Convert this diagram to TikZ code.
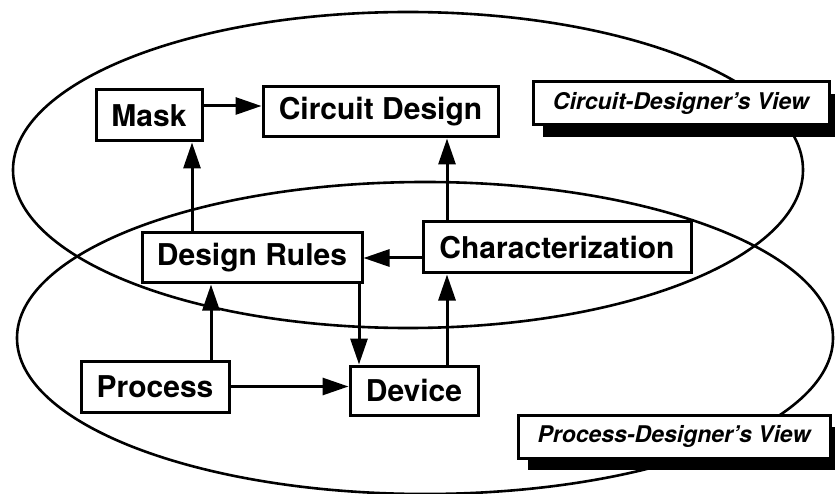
\documentclass[tikz,border=0pt]{standalone}
\usepackage{fontspec}
\setmainfont{TeX Gyre Heros}
\usetikzlibrary{positioning}
\usetikzlibrary{arrows.meta}
\usetikzlibrary{shadows}
\tikzset{
    ring/.style = {line width=2.6pt,draw=black},
    box/.style = {rectangle, line width=3pt, draw=black, fill=white, inner sep=0pt,
                  font=\bfseries\fontsize{30}{36}\selectfont},
    viewbox/.style = {rectangle, line width=3pt, draw=black, fill=white, inner sep=0pt,
                  font=\bfseries\itshape\fontsize{23}{28}\selectfont,
                  drop shadow={shadow xshift=10pt,shadow yshift=-12pt,opacity=1,fill=black}},
    edge/.style = {-{Triangle[length=26pt,width=17pt]},line width=3pt},
}

\begin{document}
\begin{tikzpicture}[x=1pt,y=-1pt]
  \useasboundingbox (0,0) rectangle (835,494);
  % the two views
  \draw[ring] (408,170) ellipse [x radius=395pt, y radius=158pt];
  \draw[ring] (425,338) ellipse [x radius=408pt, y radius=156pt];
  % boxes
  \node[box,minimum width=106pt,minimum height=51pt] (mask) at (149,115.5) {Mask};
  \node[box,minimum width=235pt,minimum height=50pt] (circuit) at (380.5,112) {Circuit Design};
  \node[box,minimum width=220pt,minimum height=50pt] (rules) at (252,258) {Design Rules};
  \node[box,minimum width=268pt,minimum height=51pt] (charac) at (557,247.5) {Characterization};
  \node[box,minimum width=148pt,minimum height=51pt] (process) at (155,386.5) {Process};
  \node[box,minimum width=128pt,minimum height=49pt] (device) at (414,390.5) {Device};
  \node[viewbox,minimum width=296pt,minimum height=43pt] (cview) at (681,103.5) {Circuit-Designer's View};
  \node[viewbox,minimum width=312pt,minimum height=43pt] (pview) at (674,436.5) {Process-Designer's View};
  % flows
  \draw[edge] (mask.east |- 0,106) -- (circuit.west |- 0,106);
  \draw[edge] (rules.north -| 192,0) -- (mask.south -| 192,0);
  \draw[edge] (charac.north -| 447,0) -- (circuit.south -| 447,0);
  \draw[edge] (charac.west |- rules) -- (rules.east);
  \draw[edge] (rules.south -| 359,0) -- (device.north -| 359,0);
  \draw[edge] (process.north -| 211,0) -- (rules.south -| 211,0);
  \draw[edge] (process.east) -- (process.east -| device.west);
  \draw[edge] (device.north -| 447,0) -- (charac.south -| 447,0);
\end{tikzpicture}
\end{document}
